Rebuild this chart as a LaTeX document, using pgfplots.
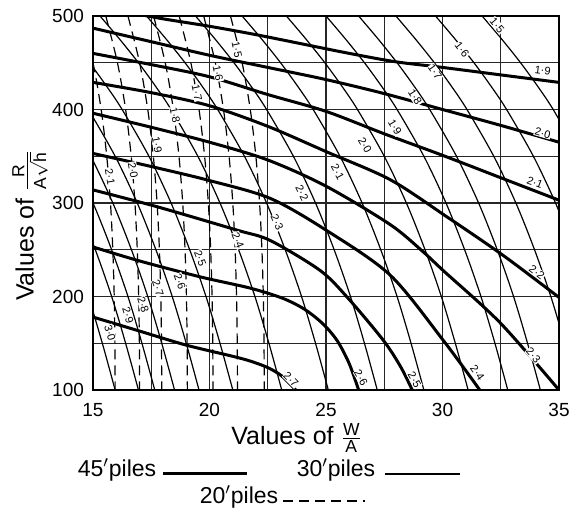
\documentclass[border=0pt]{standalone}
\usepackage{fontspec}
\setmainfont{Liberation Sans}
\usepackage{amsmath}
\usepackage{pgfplots}
\pgfplotsset{compat=1.18}
\begin{document}
\begin{tikzpicture}[x=1pt,y=1pt]
\useasboundingbox (-46.5,-64) rectangle (240,195);
\begin{axis}[
 at={(0,0)}, anchor=south west,
 width=233pt, height=187pt, scale only axis,
 xmin=15, xmax=35, ymin=100, ymax=500,
 xtick={15,20,25,30,35}, ytick={100,200,300,400,500},
 minor xtick={17.5,22.5,27.5,32.5}, minor ytick={150,250,350,450},
 grid=both,
 major grid style={black!85, line width=0.55pt},
 minor grid style={black!85, line width=0.55pt},
 major tick length=0pt, minor tick length=0pt,
 axis line style={line width=1pt},
 tick label style={font=\fontsize{9.5}{11}\selectfont},
 /pgf/number format/assume math mode=true,
 xticklabel style={yshift=-3pt},
 yticklabel style={xshift=-1pt},
 xlabel={Values of $\frac{\text{W}}{\text{A}}$},
 ylabel={Values of $\frac{\text{R}}{\text{A}\sqrt{\text{h}}}$},
 label style={font=\fontsize{12.5}{14}\selectfont},
 xlabel style={at={(axis description cs:0.437,-0.128)}, anchor=center},
 ylabel style={at={(axis description cs:-0.135,0.44)}, anchor=center},
 no markers,
 clip=true,
]
% ---- 45' piles (thick) ----
\addplot[black, line width=1.5pt, smooth] coordinates {(15,511) (16.5,504) (18,497) (20,489) (22,480) (24,470) (26,460) (28,451) (30,445) (32.5,437) (35,429)};
\addplot[black, line width=1.5pt, smooth] coordinates {(15,487) (17.5,472.5) (20,458) (22.5,445) (25,432) (27.5,417) (30,400) (32.5,383) (35,365)};
\addplot[black, line width=1.5pt, smooth] coordinates {(15,460) (17.5,448) (20,435) (22.5,416) (25,398) (27.5,374) (30,351) (32.5,327) (35,303)};
\addplot[black, line width=1.5pt, smooth] coordinates {(15,429) (17.5,418) (20,404) (22.5,382) (25,355) (27.75,325) (30.2,285) (32.6,244) (35,199)};
\addplot[black, line width=1.5pt, smooth] coordinates {(15,396) (17.5,381) (20,365) (22.5,346) (25,318) (27.75,277) (29.16,248) (30.02,228) (32.47,172) (35,100)};
\addplot[black, line width=1.5pt, smooth] coordinates {(15,353) (17.5,339) (20,324) (22.6,305) (25,271) (27.75,223) (30.02,153.5) (31.6,100)};
\addplot[black, line width=1.5pt, smooth] coordinates {(15,314) (17.75,296) (21.18,271) (22.6,260) (24.74,228) (25.9,199.5) (27.45,153.5) (28.2,125) (28.7,100)};
\addplot[black, line width=1.5pt, smooth] coordinates {(15,253) (17,238) (19.6,221) (21.74,209) (23.15,198) (24.1,186) (24.9,170) (25.5,152) (26.0,128) (26.4,100)};
\addplot[black, line width=1.5pt, smooth] coordinates {(15,178) (17,163) (19,148) (21,136) (21.74,131) (22.5,124) (23.1,115) (23.7,100)};
% ---- 30' piles (thin) ----
\addplot[black, line width=0.6pt, smooth] coordinates {(31.7,500) (32.55,475) (33.35,450) (34.08,425) (34.75,400) (35.9,350)};
\addplot[black, line width=0.6pt, smooth] coordinates {(29.7,500) (30.55,475) (31.35,450) (32.08,425) (32.75,400) (33.9,350) (34.85,300) (35.65,250)};
\addplot[black, line width=0.6pt, smooth] coordinates {(28.0,500) (28.85,475) (29.65,450) (30.38,425) (31.05,400) (32.2,350) (33.15,300) (33.95,250) (34.65,200) (35.25,150)};
\addplot[black, line width=0.6pt, smooth] coordinates {(26.4,500) (27.25,475) (28.05,450) (28.78,425) (29.45,400) (30.6,350) (31.55,300) (32.35,250) (33.05,200) (33.65,150) (34.2,100)};
\addplot[black, line width=0.6pt, smooth] coordinates {(25.0,500) (25.85,475) (26.65,450) (27.38,425) (28.05,400) (29.2,350) (30.15,300) (30.95,250) (31.65,200) (32.25,150) (32.8,100)};
\addplot[black, line width=0.6pt, smooth] coordinates {(23.3,500) (24.15,475) (24.95,450) (25.68,425) (26.35,400) (27.5,350) (28.45,300) (29.25,250) (29.95,200) (30.55,150) (31.1,100)};
\addplot[black, line width=0.6pt, smooth] coordinates {(21.4,500) (22.25,475) (23.05,450) (23.78,425) (24.45,400) (25.6,350) (26.55,300) (27.35,250) (28.05,200) (28.65,150) (29.2,100)};
\addplot[black, line width=0.6pt, smooth] coordinates {(19.4,500) (20.25,475) (21.05,450) (21.78,425) (22.45,400) (23.6,350) (24.55,300) (25.35,250) (26.05,200) (26.65,150) (27.2,100)};
\addplot[black, line width=0.6pt, smooth] coordinates {(17.3,500) (18.15,475) (18.95,450) (19.68,425) (20.35,400) (21.5,350) (22.45,300) (23.25,250) (23.95,200) (24.55,150) (25.1,100)};
\addplot[black, line width=0.6pt, smooth] coordinates {(15.3,500) (16.15,475) (16.95,450) (17.68,425) (18.35,400) (19.5,350) (20.45,300) (21.25,250) (21.95,200) (22.55,150) (23.1,100)};
\addplot[black, line width=0.6pt, smooth] coordinates {(13.2,500) (14.05,475) (14.85,450) (15.58,425) (16.25,400) (17.4,350) (18.35,300) (19.15,250) (19.85,200) (20.45,150) (21.0,100)};
\addplot[black, line width=0.6pt, smooth] coordinates {(11.75,500) (12.6,475) (13.4,450) (14.13,425) (14.8,400) (15.95,350) (16.9,300) (17.7,250) (18.4,200) (19.0,150) (19.55,100)};
\addplot[black, line width=0.6pt, smooth] coordinates {(10.7,500) (11.55,475) (12.35,450) (13.08,425) (13.75,400) (14.9,350) (15.85,300) (16.65,250) (17.35,200) (17.95,150) (18.5,100)};
\addplot[black, line width=0.6pt, smooth] coordinates {(9.85,500) (10.7,475) (11.5,450) (12.23,425) (12.9,400) (14.05,350) (15.0,300) (15.8,250) (16.5,200) (17.1,150) (17.65,100)};
\addplot[black, line width=0.6pt, smooth] coordinates {(9.15,500) (10.0,475) (10.8,450) (11.53,425) (12.2,400) (13.35,350) (14.3,300) (15.1,250) (15.8,200) (16.4,150) (16.95,100)};
\addplot[black, line width=0.6pt, smooth] coordinates {(8.15,500) (9.0,475) (9.8,450) (10.53,425) (11.2,400) (12.35,350) (13.3,300) (14.1,250) (14.8,200) (15.4,150) (15.95,100)};
% ---- 20' piles (dashed) ----
\addplot[black, line width=0.6pt, dash pattern=on 5pt off 3pt, smooth] coordinates {(20.9,500) (21.4,450) (21.75,400) (21.99,350) (22.15,300) (22.25,250) (22.31,200) (22.34,150) (22.35,100)};
\addplot[black, line width=0.6pt, dash pattern=on 5pt off 3pt, smooth] coordinates {(19.75,500) (20.25,450) (20.6,400) (20.84,350) (21.0,300) (21.1,250) (21.16,200) (21.19,150) (21.2,100)};
\addplot[black, line width=0.6pt, dash pattern=on 5pt off 3pt, smooth] coordinates {(18.7,500) (19.2,450) (19.55,400) (19.79,350) (19.95,300) (20.05,250) (20.11,200) (20.14,150) (20.15,100)};
\addplot[black, line width=0.6pt, dash pattern=on 5pt off 3pt, smooth] coordinates {(17.6,500) (18.1,450) (18.45,400) (18.69,350) (18.85,300) (18.95,250) (19.01,200) (19.04,150) (19.05,100)};
\addplot[black, line width=0.6pt, dash pattern=on 5pt off 3pt, smooth] coordinates {(16.5,500) (17.0,450) (17.35,400) (17.59,350) (17.75,300) (17.85,250) (17.91,200) (17.94,150) (17.95,100)};
\addplot[black, line width=0.6pt, dash pattern=on 5pt off 3pt, smooth] coordinates {(15.55,500) (16.05,450) (16.4,400) (16.64,350) (16.8,300) (16.9,250) (16.96,200) (16.99,150) (17.0,100)};
\addplot[black, line width=0.6pt, dash pattern=on 5pt off 3pt, smooth] coordinates {(14.5,500) (15.0,450) (15.35,400) (15.59,350) (15.75,300) (15.85,250) (15.91,200) (15.94,150) (15.95,100)};
% ---- curve labels ----
\begin{scope}[every node/.style={font=\fontsize{5.5}{6}\selectfont, inner sep=0.3pt, fill=white}]
\node[rotate=-50] at (axis cs:32.34,490) {1·5};
\node[rotate=-52] at (axis cs:30.84,464) {1·6};
\node[rotate=-55] at (axis cs:29.68,440) {1·7};
\node[rotate=-57] at (axis cs:28.82,413) {1·8};
\node[rotate=-59] at (axis cs:27.96,381) {1·9};
\node[rotate=-60] at (axis cs:26.67,362) {2·0};
\node[rotate=-62] at (axis cs:25.5,333) {2·1};
\node[rotate=-64] at (axis cs:23.97,311) {2·2};
\node[rotate=-66] at (axis cs:22.9,279) {2·3};
\node[rotate=-68] at (axis cs:21.22,260) {2·4};
\node[rotate=-69] at (axis cs:19.6,241) {2·5};
\node[rotate=-70] at (axis cs:18.73,216) {2·6};
\node[rotate=-71] at (axis cs:17.79,209) {2·7};
\node[rotate=-72] at (axis cs:17.15,191) {2·8};
\node[rotate=-73] at (axis cs:16.5,180) {2·9};
\node[rotate=-74] at (axis cs:15.73,161) {3·0};
\node[rotate=-78] at (axis cs:21.18,464) {1·5};
\node[rotate=-78] at (axis cs:20.36,439) {1·6};
\node[rotate=-78] at (axis cs:19.46,418) {1·7};
\node[rotate=-78] at (axis cs:18.52,394) {1·8};
\node[rotate=-80] at (axis cs:17.75,362) {1·9};
\node[rotate=-80] at (axis cs:16.72,335) {2·0};
\node[rotate=-80] at (axis cs:15.73,328) {2·1};
\node[rotate=-7] at (axis cs:34.3,442) {1·9};
\node[rotate=-16] at (axis cs:34.3,375) {2·0};
\node[rotate=-21] at (axis cs:33.97,322) {2·1};
\node[rotate=-37] at (axis cs:34.05,226) {2·2};
\node[rotate=-49] at (axis cs:33.9,137) {2·3};
\node[rotate=-54] at (axis cs:31.5,118) {2·4};
\node[rotate=-60] at (axis cs:28.8,111) {2·5};
\node[rotate=-60] at (axis cs:26.5,113) {2·6};
\node[rotate=-45] at (axis cs:23.5,111) {2·7};
\end{scope}
\end{axis}
% ---- legend ----
\begin{scope}[every node/.style={font=\fontsize{11.5}{13}\selectfont}]
\node at (12,-40) {45$'$piles};
\draw[line width=1.5pt] (35,-42) -- (77,-42);
\node at (121.5,-40) {30$'$piles};
\draw[line width=0.6pt] (146,-42) -- (183.5,-42);
\node at (73,-53.5) {20$'$piles};
\draw[line width=0.6pt, dash pattern=on 5pt off 3pt] (95,-55.5) -- (136,-55.5);
\end{scope}
\end{tikzpicture}
\end{document}
